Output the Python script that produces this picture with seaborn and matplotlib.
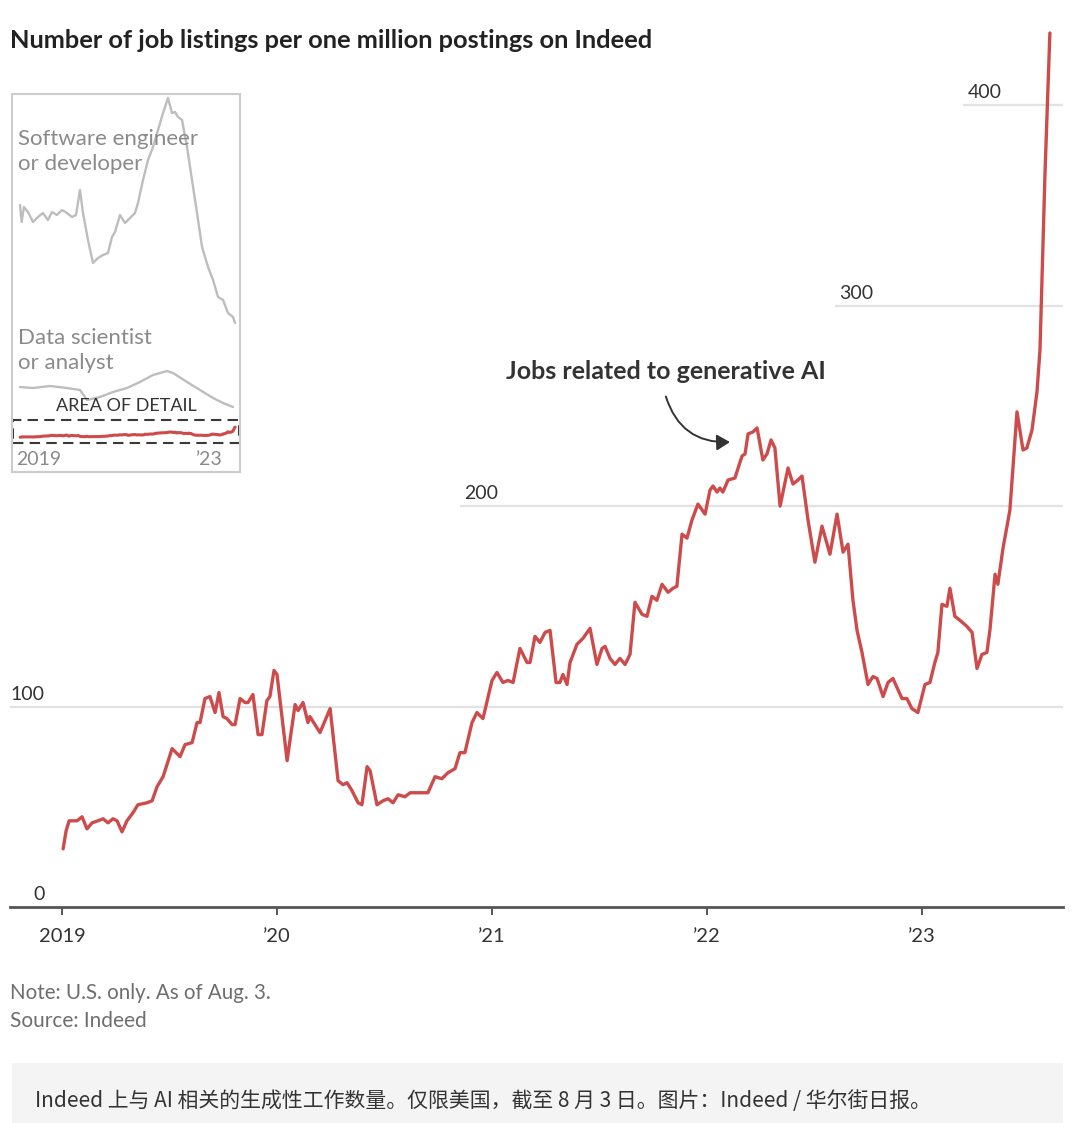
import matplotlib
matplotlib.use("Agg")
import matplotlib.pyplot as plt
import seaborn as sns
import pandas as pd
from matplotlib.patches import Rectangle, FancyArrowPatch

# ---------------- data ----------------
genai_year = [
    2019.005, 2019.019, 2019.033, 2019.047, 2019.070, 2019.093, 2019.116, 2019.140, 2019.167, 2019.191,
    2019.214, 2019.237, 2019.256, 2019.279, 2019.302, 2019.330, 2019.353, 2019.395, 2019.419, 2019.442,
    2019.470, 2019.512, 2019.549, 2019.572, 2019.605, 2019.628, 2019.642, 2019.665, 2019.688, 2019.712,
    2019.730, 2019.749, 2019.767, 2019.791, 2019.805, 2019.828, 2019.851, 2019.865, 2019.888, 2019.912,
    2019.930, 2019.953, 2019.967, 2019.986, 2020.000, 2020.047, 2020.084, 2020.098, 2020.121, 2020.144,
    2020.153, 2020.200, 2020.247, 2020.284, 2020.307, 2020.326, 2020.349, 2020.377, 2020.395, 2020.419,
    2020.433, 2020.465, 2020.493, 2020.516, 2020.540, 2020.563, 2020.595, 2020.619, 2020.665, 2020.702,
    2020.735, 2020.767, 2020.795, 2020.828, 2020.851, 2020.874, 2020.907, 2020.930, 2020.958, 2021.000,
    2021.023, 2021.051, 2021.074, 2021.098, 2021.130, 2021.163, 2021.177, 2021.200, 2021.223, 2021.247,
    2021.270, 2021.298, 2021.316, 2021.330, 2021.349, 2021.363, 2021.395, 2021.423, 2021.456, 2021.488,
    2021.512, 2021.526, 2021.549, 2021.572, 2021.595, 2021.619, 2021.642, 2021.665, 2021.698, 2021.721,
    2021.744, 2021.767, 2021.791, 2021.819, 2021.842, 2021.860, 2021.884, 2021.907, 2021.930, 2021.958,
    2021.991, 2022.014, 2022.028, 2022.047, 2022.060, 2022.074, 2022.098, 2022.130, 2022.163, 2022.177,
    2022.191, 2022.214, 2022.233, 2022.260, 2022.279, 2022.298, 2022.316, 2022.340, 2022.377, 2022.400,
    2022.423, 2022.442, 2022.470, 2022.502, 2022.535, 2022.572, 2022.605, 2022.633, 2022.656, 2022.679,
    2022.698, 2022.721, 2022.749, 2022.772, 2022.791, 2022.819, 2022.842, 2022.865, 2022.907, 2022.930,
    2022.953, 2022.981, 2023.014, 2023.037, 2023.060, 2023.074, 2023.093, 2023.116, 2023.130, 2023.153,
    2023.177, 2023.209, 2023.233, 2023.256, 2023.279, 2023.302, 2023.316, 2023.340, 2023.353, 2023.377,
    2023.409, 2023.442, 2023.470, 2023.488, 2023.512, 2023.535, 2023.549, 2023.572, 2023.595,
]
genai_value = [
    29, 38, 43, 43, 43, 45, 39, 42, 43, 44,
    42, 44, 43, 37.5, 43, 47, 51, 52, 53, 60,
    65, 79, 75, 81, 82, 92, 92, 104, 105, 97,
    107, 95, 94, 91, 91, 104, 102, 102, 106, 86,
    86, 103, 105, 118, 116, 73, 101, 98, 102, 92,
    95, 87, 99, 63, 61, 62, 58, 52, 51, 70,
    68, 51, 53, 54, 52, 56, 55, 57, 57, 57,
    65, 64, 67, 69, 77, 77, 92, 97, 94, 113,
    117, 112, 113, 112, 129, 122, 122, 135, 132, 137,
    138, 112, 112, 116, 111, 122, 131, 134, 139, 121,
    129, 130, 124, 121, 124, 121, 126, 152, 146, 145,
    155, 153, 161, 157, 159, 160, 186, 184, 193, 201,
    196, 208, 210, 207, 209, 207, 213, 214, 225, 226,
    236, 237, 239, 223, 226, 233, 229, 200, 219, 211,
    213, 215, 193, 172, 190, 176, 196, 177, 181, 153,
    138, 127, 111, 115, 114, 105, 112, 114, 104, 104,
    99, 97, 111, 112, 122, 127, 151, 150, 159, 145,
    143, 140, 137, 119, 126, 127, 138, 166, 161, 179,
    198, 247, 228, 229, 238, 257, 278, 365, 436,
]

swe_year = [
    2019.000, 2019.036, 2019.085, 2019.171, 2019.278, 2019.385, 2019.491, 2019.598, 2019.684, 2019.791,
    2019.897, 2020.004, 2020.111, 2020.197, 2020.282, 2020.346, 2020.453, 2020.560, 2020.667, 2020.774,
    2020.880, 2020.966, 2021.030, 2021.137, 2021.244, 2021.350, 2021.457, 2021.521, 2021.628, 2021.735,
    2021.842, 2021.949, 2022.056, 2022.162, 2022.248, 2022.312, 2022.376, 2022.462, 2022.568, 2022.675,
    2022.782, 2022.889, 2023.017, 2023.124, 2023.231, 2023.338, 2023.444, 2023.551, 2023.594,
]
swe_value = [
    9320, 8640, 9240, 9040, 8640, 8840, 9000, 8720, 9040, 8920,
    9120, 9000, 8840, 8920, 9920, 9000, 7920, 7000, 7200, 7320,
    7400, 8040, 8240, 8920, 8600, 8800, 9000, 9400, 10320, 11120,
    11640, 12320, 13000, 13600, 13000, 13040, 12840, 12720, 11640, 10320,
    9000, 7640, 6840, 6320, 5640, 5520, 5000, 4840, 4600,
]

ds_year = [
    2019.000, 2019.278, 2019.641, 2020.004, 2020.282, 2020.432, 2020.709, 2020.987, 2021.286, 2021.564,
    2021.842, 2022.141, 2022.269, 2022.568, 2022.846, 2023.124, 2023.338, 2023.551,
]
ds_value = [
    2040, 2000, 2080, 2000, 1920, 1520, 1640, 1840, 2000, 2240,
    2520, 2680, 2600, 2240, 1920, 1600, 1400, 1240,
]

year_ticks = [2019, 2020, 2021, 2022, 2023]
year_labels = ["2019", "\u201920", "\u201921", "\u201922", "\u201923"]
grid_values = [100, 200, 300, 400]
grid_starts = [2018.758, 2020.851, 2022.595, 2023.191]
zero_label = "0"

title = "Number of job listings per one million postings on Indeed"
annotation = "Jobs related to generative AI"
note = "Note: U.S. only. As of Aug. 3."
source = "Source: Indeed"
caption = "Indeed 上与 AI 相关的生成性工作数量。仅限美国，截至 8 月 3 日。图片：Indeed / 华尔街日报。"

# ---------------- style ----------------
sns.set_theme(style="white")
plt.rcParams["font.family"] = ["Lato", "DejaVu Sans"]

RED = "#cd4b4b"
DARK = "#333333"
GRAY_TXT = "#6e6e6e"
GRID = "#e2e2e2"
INSET_LINE = "#bdbdbd"

W, H = 1080, 1123
fig = plt.figure(figsize=(W / 100, H / 100), dpi=100)
fig.patch.set_facecolor("white")

def fx(px):
    return px / W

def fy(py):
    return 1 - py / H

# ---------------- main axes ----------------
ax = fig.add_axes([fx(10), fy(907), fx(1063) - fx(10), fy(25) - fy(907)])
df = pd.DataFrame({"year": genai_year, "value": genai_value})
sns.lineplot(data=df, x="year", y="value", ax=ax, color=RED, linewidth=2.4,
             estimator=None, sort=False)
ax.set_xlim(2018.758, 2023.656)
ax.set_ylim(0, 440)
ax.set_xlabel("")
ax.set_ylabel("")

for v, x0 in zip(grid_values, grid_starts):
    ax.hlines(v, x0, 2023.656, color=GRID, linewidth=1.6, zorder=0)
    ax.text(x0 + (0.02 if v > 100 else 0.0), v + 3.5, str(v), fontsize=14,
            color=DARK, ha="left", va="baseline")
ax.text(2018.865, 3.5, zero_label, fontsize=14, color=DARK, ha="left", va="baseline")

for s in ["left", "right", "top"]:
    ax.spines[s].set_visible(False)
ax.spines["bottom"].set_color("#555555")
ax.spines["bottom"].set_linewidth(2)
ax.set_yticks([])
ax.set_xticks(year_ticks, year_labels)
ax.tick_params(axis="x", length=6, width=1.4, color="#555555", pad=9,
               labelsize=14.5, labelcolor=DARK, bottom=True)

# annotation
ax.text(2021.81, 267.3, annotation, fontsize=18, fontweight="bold", color=DARK,
        ha="center", va="center")
arrow = FancyArrowPatch((2021.805, 256), (2022.12, 232), connectionstyle="arc3,rad=0.4",
                        arrowstyle="-|>,head_length=5,head_width=3", color="#333333",
                        linewidth=1.4, mutation_scale=1.6)
ax.add_patch(arrow)

# ---------------- inset ----------------
ins = fig.add_axes([fx(12), fy(472), fx(240) - fx(12), fy(94) - fy(472)])
ins.set_xlim(2018.83, 2023.70)
ins.set_ylim(-1360, 13760)
sns.lineplot(x=swe_year, y=swe_value, ax=ins, color=INSET_LINE, linewidth=1.7,
             estimator=None, sort=False)
sns.lineplot(x=ds_year, y=ds_value, ax=ins, color=INSET_LINE, linewidth=1.7,
             estimator=None, sort=False)
sns.lineplot(x=genai_year, y=genai_value, ax=ins, color=RED, linewidth=2.2,
             estimator=None, sort=False)
ins.set_xticks([])
ins.set_yticks([])
ins.set_xlabel("")
ins.set_ylabel("")
for s in ins.spines.values():
    s.set_color("#cccccc")
    s.set_linewidth(1.5)

ins.text(0.026, 0.907, "Software engineer\nor developer", transform=ins.transAxes,
         fontsize=16, color="#8a8a8a", ha="left", va="top", linespacing=1.32)
ins.text(0.026, 0.380, "Data scientist\nor analyst", transform=ins.transAxes,
         fontsize=16, color="#8a8a8a", ha="left", va="top", linespacing=1.32)
ins.text(0.5, 0.175, "AREA OF DETAIL", transform=ins.transAxes, fontsize=13,
         color=DARK, ha="center", va="center")
ins.text(0.018, 0.032, "2019", transform=ins.transAxes, fontsize=14,
         color="#8a8a8a", ha="left", va="center")
ins.text(0.925, 0.032, "\u201923", transform=ins.transAxes, fontsize=14,
         color="#8a8a8a", ha="right", va="center")
ins.add_patch(Rectangle((0.004, 0.077), 0.99, 0.061, transform=ins.transAxes,
                        fill=False, edgecolor="#3a3a3a", linewidth=1.5,
                        linestyle=(0, (5, 3)), clip_on=False))

# ---------------- titles / notes ----------------
fig.text(fx(10), fy(40), title, fontsize=18.3, fontweight="bold", color="#222222",
         ha="left", va="center")
fig.text(fx(10), fy(993), note, fontsize=14.8, color=GRAY_TXT, ha="left", va="center")
fig.text(fx(10), fy(1021), source, fontsize=15, color=GRAY_TXT, ha="left", va="center")

fig.patches.append(Rectangle((fx(12), 0), fx(1063) - fx(12), fy(1063), transform=fig.transFigure,
                             facecolor="#f4f4f4", edgecolor="none", zorder=0))
fig.text(fx(35), fy(1101), caption, fontsize=15, color="#333333", ha="left", va="center",
         family=["Noto Sans CJK SC", "DejaVu Sans"])

fig.savefig("out.png", dpi=100, facecolor="white")
